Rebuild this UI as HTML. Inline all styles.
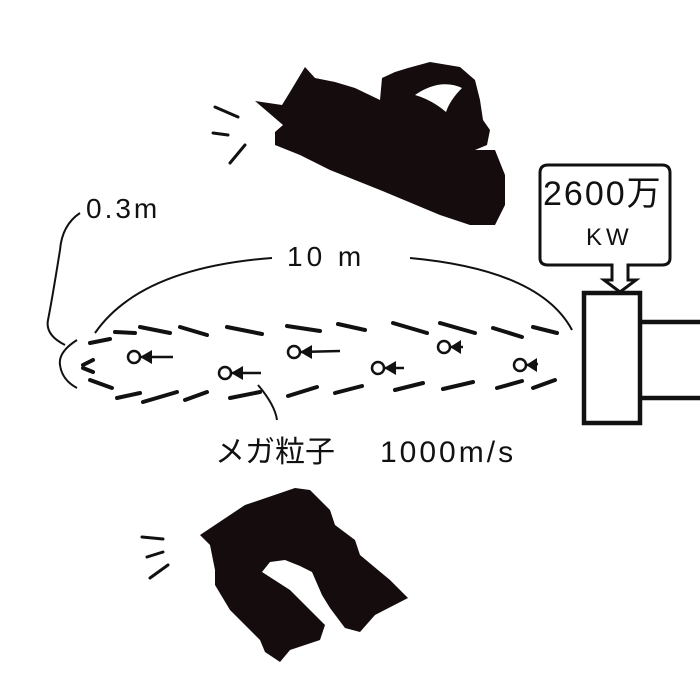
<!DOCTYPE html>
<html><head><meta charset="utf-8"><style>
html,body{margin:0;padding:0;background:#fff;}
svg{display:block;}
text{font-family:"Liberation Sans","Noto Sans CJK JP",sans-serif;fill:#111;}
</style></head><body>
<svg width="700" height="700" viewBox="0 0 700 700" xmlns="http://www.w3.org/2000/svg">
<g fill="#150c0e">
<path d="M255,101 L282,105 L290,92 L305,67 L315,78 L335,82 L355,88 L380,100 L382,78 L395,72 L408,68 L430,62 L460,67 L475,80 L480,100 L483,120 L490,130 L487,145 L475,150 L495,150 L505,175 L505,205 L495,225 L470,225 L440,215 L380,190 L330,170 L300,155 L275,145 L275,132 L283,125 Z"/>
<path d="M200,535 L245,505 L295,488 L310,490 L330,510 L335,525 L355,540 L360,555 L390,580 L408,598 L375,615 L360,632 L345,628 L330,608 L322,595 L312,572 L300,566 L285,560 L270,562 L262,572 L290,590 L305,605 L325,625 L320,640 L290,650 L280,662 L265,652 L260,640 L230,610 L215,585 L215,570 L210,545 Z"/>
</g>
<path d="M415,95 Q440,78 462,88 Q450,100 446,112 Q432,100 415,95 Z" fill="#fff"/>
<g stroke="#111" stroke-width="3" stroke-linecap="round" fill="none">
<line x1="215" y1="107" x2="238" y2="117"/><line x1="213" y1="133" x2="228" y2="135"/><line x1="230" y1="163" x2="245" y2="145"/>
<line x1="142" y1="537" x2="163" y2="539"/><line x1="147" y1="557" x2="163" y2="552"/><line x1="150" y1="578" x2="168" y2="565"/>
</g>
<g stroke="#111" stroke-width="4" stroke-linecap="round" fill="none">
<line x1="90" y1="343" x2="110" y2="339"/><line x1="115" y1="332" x2="135" y2="333"/><line x1="140" y1="327" x2="170" y2="333"/><line x1="180" y1="327" x2="207" y2="335"/><line x1="227" y1="327" x2="262" y2="334"/><line x1="287" y1="326" x2="320" y2="331"/><line x1="338" y1="324" x2="365" y2="330"/><line x1="393" y1="323" x2="427" y2="333"/><line x1="440" y1="323" x2="475" y2="333"/><line x1="493" y1="328" x2="522" y2="337"/><line x1="533" y1="327" x2="557" y2="333"/>
<line x1="90" y1="380" x2="112" y2="388"/><line x1="117" y1="398" x2="140" y2="393"/><line x1="143" y1="402" x2="177" y2="392"/><line x1="185" y1="400" x2="207" y2="392"/><line x1="230" y1="398" x2="260" y2="392"/><line x1="288" y1="396" x2="317" y2="387"/><line x1="335" y1="393" x2="362" y2="386"/><line x1="395" y1="390" x2="423" y2="383"/><line x1="443" y1="389" x2="473" y2="382"/><line x1="497" y1="388" x2="522" y2="381"/><line x1="533" y1="388" x2="555" y2="380"/>
<line x1="83" y1="365" x2="93" y2="360"/><line x1="83" y1="368" x2="93" y2="372"/>
</g>
<g stroke="#111" stroke-width="2" fill="none">
<path d="M77,340 Q58,352 60,365 Q62,380 77,388"/>
<path d="M80,213 Q62,225 60,250 Q52,300 48,320 Q45,335 65,345"/>
<path d="M95,333 Q140,268 272,258"/>
<path d="M410,258 Q540,270 572,330"/>
<path d="M258,385 Q275,405 277,420"/>
</g>
<g stroke="#111" stroke-width="2.5" fill="none">
<circle cx="134" cy="357" r="6"/><circle cx="225" cy="373" r="6"/><circle cx="294" cy="352" r="6"/><circle cx="378" cy="368" r="6"/><circle cx="444" cy="347" r="6"/><circle cx="520" cy="365" r="6"/>
<line x1="140" y1="357" x2="173" y2="357"/><line x1="231" y1="373" x2="261" y2="373"/><line x1="300" y1="352" x2="340" y2="351"/><line x1="384" y1="368" x2="404" y2="368"/><line x1="450" y1="347" x2="463" y2="347"/><line x1="526" y1="365" x2="538" y2="364"/>
</g>
<g fill="#111">
<polygon points="140,357 152,350 152,364"/><polygon points="231,373 243,366 243,380"/><polygon points="300,352 312,345 312,359"/><polygon points="384,368 396,361 396,375"/><polygon points="450,347 461,340 461,354"/><polygon points="526,365 537,358 537,372"/>
</g>
<g stroke="#111" stroke-width="3" fill="none">
<path d="M548,165 L662,165 Q670,165 670,173 L670,258 Q670,265 662,265 L628,265 L628,280 L636,280 L620,292 L604,280 L612,280 L612,265 L548,265 Q540,265 540,258 L540,173 Q540,165 548,165 Z"/>
</g>
<g stroke="#111" stroke-width="4.5" fill="none">
<rect x="584" y="293" width="56" height="130"/>
<line x1="640" y1="322" x2="700" y2="322"/><line x1="640" y1="398" x2="700" y2="398"/>
</g>
<text x="543" y="205" font-size="34" letter-spacing="2">2600万</text>
<text x="586" y="245" font-size="24" letter-spacing="4">KW</text>
<text x="86" y="218" font-size="28" letter-spacing="3">0.3m</text>
<text x="287" y="266" font-size="28" letter-spacing="4">10 m</text>
<text x="215" y="462" font-size="30">メガ粒子</text>
<text x="380" y="462" font-size="30" letter-spacing="3">1000m/s</text>
</svg>
</body></html>
